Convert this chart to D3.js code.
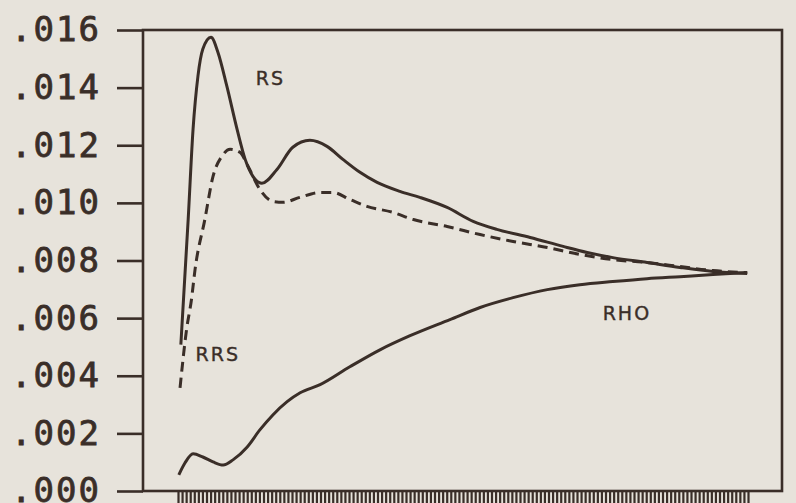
<!DOCTYPE html>
<html>
<head>
<meta charset="utf-8">
<script src="https://cdn.jsdelivr.net/npm/d3@7"></script>
<style>
  html, body { margin: 0; padding: 0; background: #e7e3db; }
  svg { display: block; }
</style>
</head>
<body>
<svg id="chart" width="796" height="503"></svg>
<script>
// Period index along the horizontal axis (one comb tick per period)
const periodTicks = d3.range(0, 141);

// RS: solid curve with the sharp early peak
const rsT = [0.7, 2.5, 3.7, 4.9, 6.1, 8.1, 9.8, 12.0, 14.5, 16.5, 18.4, 20.6, 24.3, 28.2, 32.4, 36.6, 40.5, 44.7, 48.9, 54.5, 59.4, 66.1, 72.5, 78.3, 86.5, 94.6, 100.5, 106.8, 115.2, 123.3, 131.4, 139.8];
const rsV = [0.00508, 0.00943, 0.01256, 0.0144, 0.01534, 0.01575, 0.01523, 0.01405, 0.01256, 0.01151, 0.01092, 0.01068, 0.01116, 0.01193, 0.01217, 0.01196, 0.01151, 0.01106, 0.01071, 0.0104, 0.01019, 0.00984, 0.00936, 0.00908, 0.0088, 0.00849, 0.00828, 0.0081, 0.00793, 0.00776, 0.00762, 0.00755];

// RRS: dashed curve
const rrsT = [0.5, 2.1, 3.3, 4.2, 6.6, 8.6, 10.8, 12.8, 15.2, 17.2, 20.1, 23.3, 25.8, 29.9, 34.9, 38.1, 42.2, 46.4, 52.8, 57.6, 66.1, 74.2, 82.3, 90.7, 98.7, 106.8, 115.2, 123.3, 131.4, 139.8];
const rrsV = [0.00358, 0.0056, 0.00664, 0.0077, 0.00943, 0.01092, 0.01162, 0.01186, 0.01176, 0.01127, 0.01047, 0.01005, 0.01002, 0.01019, 0.01036, 0.01036, 0.01012, 0.00988, 0.00967, 0.00943, 0.00918, 0.0089, 0.00866, 0.00845, 0.00821, 0.00803, 0.00793, 0.00779, 0.00765, 0.00758];

// RHO: lower solid curve rising toward the common limit
const rhoT = [0.2, 1.7, 3.7, 6.1, 8.6, 11.1, 13.5, 17.0, 20.1, 23.3, 26.8, 30.0, 34.9, 42.2, 49.6, 57.0, 66.8, 74.2, 82.3, 90.7, 98.7, 106.8, 115.2, 123.3, 131.4, 139.8];
const rhoV = [0.00056, 0.00097, 0.00129, 0.00118, 0.00101, 0.0009, 0.00108, 0.00153, 0.00212, 0.00264, 0.0031, 0.00341, 0.00369, 0.00431, 0.0049, 0.00539, 0.00595, 0.00637, 0.00671, 0.00699, 0.00716, 0.00727, 0.00737, 0.00744, 0.00751, 0.00758];

// Vertical axis ticks
const yTicks = [0, 0.002, 0.004, 0.006, 0.008, 0.010, 0.012, 0.014, 0.016];

// Series labels
const labels = [
  { text: "RS",  t: 19.1, v: 0.0141 },
  { text: "RRS", t: 4.3,  v: 0.00452 },
  { text: "RHO", t: 104.3, v: 0.00595 }
];

const ink = "#3a2e28";
const svg = d3.select("#chart");

const frame = { left: 143, right: 782, top: 30, bottom: 491 };

const x = d3.scaleLinear().domain([0, 140]).range([178, 748]);
const y = d3.scaleLinear().domain([0, 0.016]).range([frame.bottom, frame.top]);

// Plot frame
svg.append("rect")
  .attr("x", frame.left).attr("y", frame.top)
  .attr("width", frame.right - frame.left)
  .attr("height", frame.bottom - frame.top)
  .attr("fill", "none").attr("stroke", ink).attr("stroke-width", 2.6);

// Left axis with outward ticks and large labels
const yAxis = svg.append("g")
  .attr("transform", `translate(${frame.left},0)`)
  .call(d3.axisLeft(y).tickValues(yTicks).tickSize(26).tickPadding(16)
    .tickFormat(d => d3.format(".3f")(d).replace(/^0/, "")));
yAxis.select(".domain").remove();
yAxis.selectAll(".tick line").attr("stroke", ink).attr("stroke-width", 2.6);
yAxis.selectAll(".tick text")
  .attr("fill", ink)
  .attr("stroke", ink)
  .attr("stroke-width", 0.8)
  .style("font-family", "'DejaVu Sans Mono', monospace")
  .style("font-size", "34px")
  .style("letter-spacing", "2px");

// Bottom comb of period ticks
const xAxis = svg.append("g")
  .attr("transform", `translate(0,${frame.bottom})`)
  .call(d3.axisBottom(x).tickValues(periodTicks).tickSize(12).tickFormat(""));
xAxis.select(".domain").remove();
xAxis.selectAll(".tick line").attr("stroke", ink).attr("stroke-width", 2.2);

// Curves
const line = d3.line()
  .x(d => x(d[0]))
  .y(d => y(d[1]))
  .curve(d3.curveMonotoneX);

const series = [
  { t: rsT,  v: rsV,  dash: null },
  { t: rrsT, v: rrsV, dash: "10,6" },
  { t: rhoT, v: rhoV, dash: null }
];

svg.append("g").selectAll("path")
  .data(series)
  .join("path")
  .attr("d", s => line(d3.zip(s.t, s.v)))
  .attr("fill", "none")
  .attr("stroke", ink)
  .attr("stroke-width", 3)
  .attr("stroke-linejoin", "round")
  .attr("stroke-dasharray", s => s.dash);

// Series labels
svg.append("g").selectAll("text")
  .data(labels)
  .join("text")
  .attr("x", d => x(d.t))
  .attr("y", d => y(d.v))
  .attr("fill", ink)
  .attr("stroke", ink)
  .attr("stroke-width", 0.4)
  .style("font-family", "'DejaVu Sans', sans-serif")
  .style("font-size", "19px")
  .style("letter-spacing", "2px")
  .text(d => d.text);
</script>
</body>
</html>
